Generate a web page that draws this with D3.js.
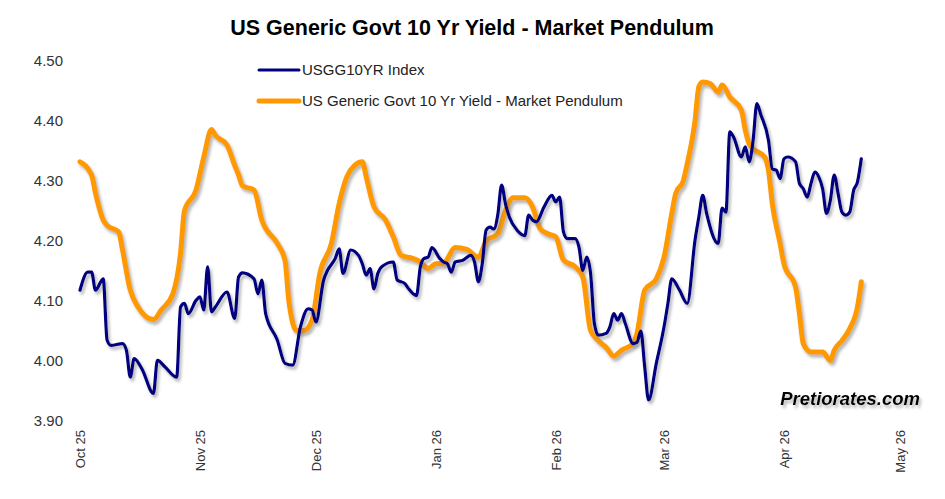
<!DOCTYPE html>
<html>
<head>
<meta charset="utf-8">
<script src="https://cdn.jsdelivr.net/npm/d3@7"></script>
<style>
  html, body { margin: 0; padding: 0; background: #fff; }
  #main { width: 945px; height: 499px; }
  text { font-family: "Liberation Sans", Arial, sans-serif; }
</style>
</head>
<body>
<div id="main"></div>
<script>
const width = 945;
const height = 499;

// Market Pendulum (orange)
const penDates = [
  "2025-10-01","2025-10-04","2025-10-05","2025-10-07","2025-10-08","2025-10-11","2025-10-12","2025-10-14",
  "2025-10-16","2025-10-20","2025-10-22","2025-10-25","2025-10-27","2025-10-28","2025-10-31","2025-11-02",
  "2025-11-04","2025-11-05","2025-11-08","2025-11-10","2025-11-11","2025-11-12","2025-11-15","2025-11-17",
  "2025-11-21","2025-11-23","2025-11-24","2025-11-26","2025-11-28","2025-11-30","2025-12-02","2025-12-05",
  "2025-12-07","2025-12-09","2025-12-11","2025-12-13","2025-12-14","2025-12-16","2025-12-19","2025-12-21",
  "2025-12-23","2025-12-26","2025-12-28","2025-12-30","2026-01-01","2026-01-03","2026-01-06","2026-01-09",
  "2026-01-12","2026-01-14","2026-01-17","2026-01-19","2026-01-21","2026-01-24","2026-01-26","2026-01-28",
  "2026-01-30","2026-02-01","2026-02-03","2026-02-06","2026-02-08","2026-02-10","2026-02-12","2026-02-14",
  "2026-02-16","2026-02-18","2026-02-21","2026-02-22","2026-02-24","2026-02-27","2026-03-01","2026-03-03",
  "2026-03-04","2026-03-06","2026-03-07","2026-03-09","2026-03-10","2026-03-11","2026-03-13","2026-03-15",
  "2026-03-16","2026-03-18","2026-03-21","2026-03-22","2026-03-23","2026-03-24","2026-03-27","2026-03-28",
  "2026-03-29","2026-03-31","2026-04-01","2026-04-04","2026-04-05","2026-04-06","2026-04-08","2026-04-11",
  "2026-04-13","2026-04-14","2026-04-16","2026-04-18","2026-04-20","2026-04-21"
];
const penValues = [
  4.332,4.31,4.28,4.235,4.226,4.215,4.185,4.118,
  4.09,4.069,4.085,4.112,4.18,4.25,4.285,4.34,
  4.386,4.376,4.36,4.326,4.31,4.292,4.285,4.235,
  4.196,4.168,4.10,4.051,4.051,4.068,4.146,4.196,
  4.262,4.307,4.326,4.332,4.307,4.257,4.235,4.207,
  4.176,4.171,4.165,4.154,4.162,4.163,4.189,4.186,
  4.173,4.20,4.212,4.251,4.272,4.272,4.257,4.22,
  4.212,4.207,4.168,4.157,4.14,4.051,4.034,4.023,
  4.008,4.018,4.029,4.046,4.118,4.137,4.173,4.246,
  4.279,4.301,4.329,4.40,4.457,4.465,4.462,4.448,
  4.46,4.44,4.418,4.385,4.362,4.354,4.34,4.318,
  4.262,4.196,4.162,4.123,4.079,4.029,4.015,4.015,
  4.001,4.018,4.034,4.054,4.09,4.132
];

// USGG10YR Index (blue)
const usggDates = [
  "2025-10-01","2025-10-03","2025-10-04","2025-10-05","2025-10-07","2025-10-08","2025-10-09","2025-10-12",
  "2025-10-13","2025-10-14","2025-10-15","2025-10-17","2025-10-20","2025-10-21","2025-10-23","2025-10-26",
  "2025-10-27","2025-10-28","2025-10-29","2025-10-31","2025-11-01","2025-11-02","2025-11-03","2025-11-04",
  "2025-11-05","2025-11-08","2025-11-10","2025-11-11","2025-11-12","2025-11-15","2025-11-16","2025-11-17",
  "2025-11-18","2025-11-21","2025-11-23","2025-11-25","2025-11-27","2025-11-29","2025-11-30","2025-12-01",
  "2025-12-03","2025-12-04","2025-12-06","2025-12-07","2025-12-08","2025-12-10","2025-12-12","2025-12-13",
  "2025-12-14","2025-12-15","2025-12-16","2025-12-17","2025-12-18","2025-12-21","2025-12-22","2025-12-24",
  "2025-12-25","2025-12-27","2025-12-28","2025-12-29","2025-12-30","2025-12-31","2026-01-02","2026-01-03",
  "2026-01-04","2026-01-05","2026-01-06","2026-01-08","2026-01-10","2026-01-11","2026-01-12","2026-01-13",
  "2026-01-14","2026-01-15","2026-01-16","2026-01-17","2026-01-18","2026-01-19","2026-01-20","2026-01-22",
  "2026-01-24","2026-01-25","2026-01-26","2026-01-27","2026-01-29","2026-01-31","2026-02-01","2026-02-02",
  "2026-02-03","2026-02-04","2026-02-06","2026-02-07","2026-02-08","2026-02-09","2026-02-10","2026-02-11",
  "2026-02-12","2026-02-14","2026-02-15","2026-02-16","2026-02-17","2026-02-18","2026-02-19","2026-02-21",
  "2026-02-22","2026-02-23","2026-02-24","2026-02-25","2026-02-27","2026-03-01","2026-03-02","2026-03-03",
  "2026-03-05","2026-03-07","2026-03-09","2026-03-10","2026-03-11","2026-03-12","2026-03-15","2026-03-16",
  "2026-03-17","2026-03-18","2026-03-19","2026-03-21","2026-03-22","2026-03-23","2026-03-24","2026-03-25",
  "2026-03-26","2026-03-28","2026-03-29","2026-03-30","2026-03-31","2026-04-01","2026-04-02","2026-04-04",
  "2026-04-05","2026-04-06","2026-04-07","2026-04-08","2026-04-09","2026-04-10","2026-04-11","2026-04-12",
  "2026-04-13","2026-04-14","2026-04-15","2026-04-16","2026-04-17","2026-04-18","2026-04-19","2026-04-20",
  "2026-04-21"
];
const usggValues = [
  4.118,4.148,4.148,4.118,4.137,4.035,4.026,4.029,
  4.018,3.973,4.004,3.987,3.946,4.001,3.99,3.973,
  4.09,4.096,4.079,4.101,4.107,4.085,4.157,4.082,
  4.09,4.115,4.071,4.14,4.147,4.137,4.112,4.135,
  4.079,4.035,3.996,3.993,4.057,4.087,4.085,4.065,
  4.135,4.151,4.171,4.187,4.146,4.185,4.176,4.162,
  4.143,4.154,4.12,4.146,4.157,4.165,4.135,4.129,
  4.12,4.109,4.157,4.171,4.173,4.189,4.171,4.165,
  4.162,4.148,4.165,4.168,4.176,4.165,4.132,4.162,
  4.218,4.223,4.22,4.243,4.293,4.262,4.24,4.218,
  4.209,4.243,4.235,4.232,4.257,4.276,4.265,4.273,
  4.215,4.204,4.204,4.19,4.151,4.173,4.146,4.062,
  4.043,4.046,4.057,4.079,4.068,4.079,4.062,4.029,
  4.031,4.05,3.99,3.935,3.996,4.057,4.096,4.137,
  4.118,4.096,4.201,4.24,4.276,4.246,4.196,4.255,
  4.248,4.382,4.373,4.34,4.357,4.332,4.366,4.429,
  4.411,4.368,4.32,4.318,4.304,4.337,4.34,4.332,
  4.296,4.287,4.273,4.296,4.315,4.307,4.287,4.246,
  4.268,4.31,4.279,4.248,4.243,4.248,4.284,4.298,
  4.337
];

const yTicks = [3.9, 4.0, 4.1, 4.2, 4.3, 4.4, 4.5];
const seriesNames = ["USGG10YR Index", "US Generic Govt 10 Yr Yield - Market Pendulum"];
const chartTitle = "US Generic Govt 10 Yr Yield - Market Pendulum";

const parseDate = d3.timeParse("%Y-%m-%d");
const usgg = usggDates.map((d, i) => ({ date: parseDate(d), value: usggValues[i] }));
const pen = penDates.map((d, i) => ({ date: parseDate(d), value: penValues[i] }));

const x = d3.scaleTime()
  .domain([new Date(2025, 9, 1), new Date(2026, 4, 1)])
  .range([80, 900]);
const y = d3.scaleLinear().domain([3.9, 4.5]).range([421, 61]);

const svg = d3.select("#main")
  .append("svg")
  .attr("width", width)
  .attr("height", height)
  .style("background", "#fff");

// soft drop shadow under the lines, as in the original
const defs = svg.append("defs");
const shadow = defs.append("filter")
  .attr("id", "shadow")
  .attr("x", "-10%").attr("y", "-10%")
  .attr("width", "120%").attr("height", "130%");
shadow.append("feDropShadow")
  .attr("dx", 2).attr("dy", 3)
  .attr("stdDeviation", 1.5)
  .attr("flood-color", "#7a7a7a")
  .attr("flood-opacity", 0.55);

svg.append("text")
  .attr("x", 472)
  .attr("y", 35)
  .attr("text-anchor", "middle")
  .style("font-size", "21.5px")
  .style("font-weight", "bold")
  .attr("fill", "#000")
  .text(chartTitle);

// y axis labels only (no axis line)
const yAxis = svg.append("g")
  .attr("transform", "translate(63,0)")
  .call(d3.axisLeft(y).tickValues(yTicks).tickFormat(d3.format(".2f")).tickSize(0).tickPadding(0));
yAxis.select(".domain").remove();
yAxis.selectAll("text")
  .style("font-size", "15px")
  .attr("fill", "#333");

// x axis labels, rotated
const xAxis = svg.append("g")
  .attr("transform", "translate(0,430)")
  .call(d3.axisBottom(x).ticks(d3.timeMonth.every(1)).tickFormat(d3.timeFormat("%b %y")).tickSize(0));
xAxis.select(".domain").remove();
xAxis.selectAll("text")
  .style("font-size", "13px")
  .attr("fill", "#333")
  .attr("text-anchor", "end")
  .attr("transform", "rotate(-90)")
  .attr("x", 0)
  .attr("y", 0)
  .attr("dx", 0)
  .attr("dy", "0.35em");

const line = d3.line()
  .x(d => x(d.date))
  .y(d => y(d.value))
  .curve(d3.curveMonotoneX);

svg.append("path")
  .datum(pen)
  .attr("d", line)
  .attr("fill", "none")
  .attr("stroke", "#ff9900")
  .attr("stroke-width", 5)
  .attr("stroke-linejoin", "round")
  .attr("stroke-linecap", "round")
  .attr("filter", "url(#shadow)");

svg.append("path")
  .datum(usgg)
  .attr("d", line)
  .attr("fill", "none")
  .attr("stroke", "#000080")
  .attr("stroke-width", 3.2)
  .attr("stroke-linejoin", "round")
  .attr("stroke-linecap", "round")
  .attr("filter", "url(#shadow)");

// legend
const legendColors = ["#000080", "#ff9900"];
const legendWidths = [3, 5];
const legend = svg.append("g");
seriesNames.forEach((name, i) => {
  const ly = 70 + i * 31;
  legend.append("line")
    .attr("x1", 259).attr("x2", 299)
    .attr("y1", ly).attr("y2", ly)
    .attr("stroke", legendColors[i])
    .attr("stroke-width", legendWidths[i])
    .attr("stroke-linecap", "round");
  legend.append("text")
    .attr("x", 302)
    .attr("y", ly)
    .attr("dy", "0.35em")
    .style("font-size", "15px")
    .attr("fill", "#222")
    .text(name);
});

// watermark
svg.append("text")
  .attr("x", 920)
  .attr("y", 405)
  .attr("text-anchor", "end")
  .style("font-size", "18.5px")
  .style("font-weight", "bold")
  .style("font-style", "italic")
  .attr("fill", "#000")
  .attr("filter", "url(#shadow)")
  .text("Pretiorates.com");
</script>
</body>
</html>
